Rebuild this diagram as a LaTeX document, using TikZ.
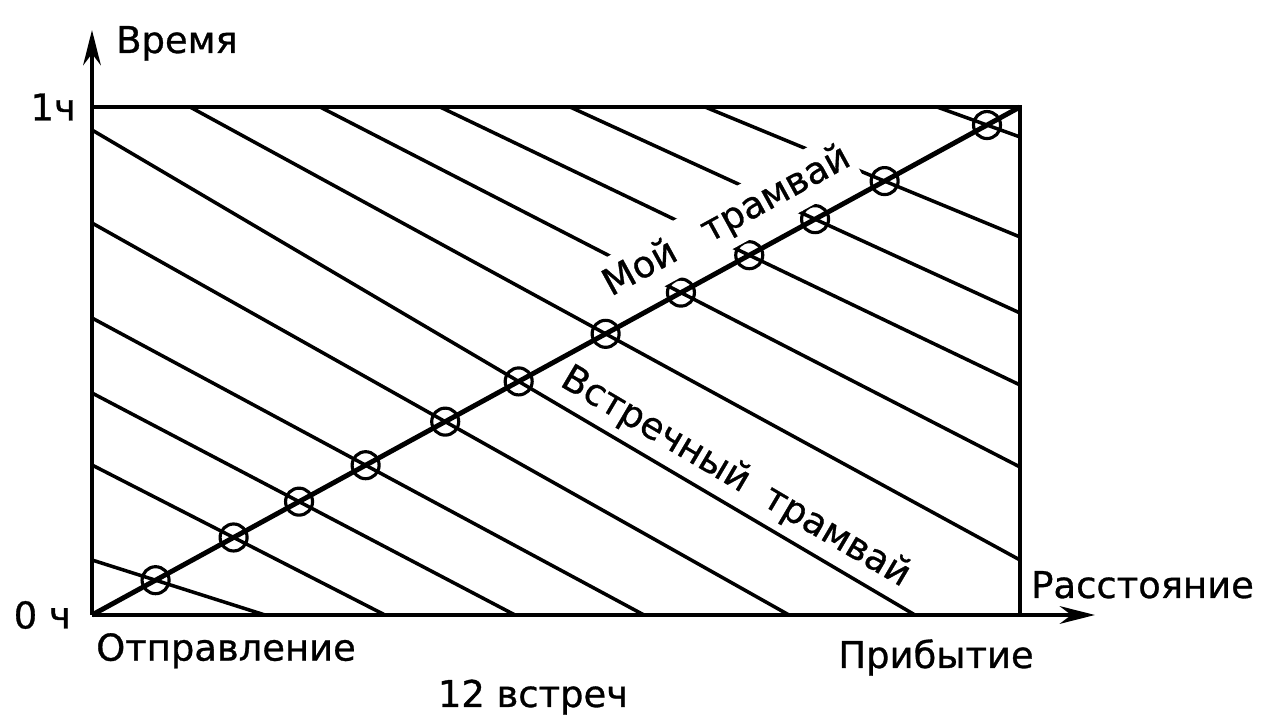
\documentclass[tikz,border=0pt]{standalone}
\usepackage{fontspec}
\setmainfont[FakeBold=0.8]{DejaVu Sans}
\usetikzlibrary{arrows.meta,positioning,intersections}

\begin{document}
\begin{tikzpicture}
\tikzstyle{hatch} = [line width=1pt]
\tikzstyle{frame} = [line width=1.2pt]
\tikzstyle{axis} = [line width=1.3pt, -{Stealth[length=10pt,width=5pt]}]
\tikzstyle{meet} = [circle, draw, line width=0.9pt, minimum size=0.27cm, inner sep=0pt]
\tikzstyle{lbl} = [font=\fontsize{10.5}{12}\selectfont, inner sep=1pt]

\useasboundingbox (-0.92,-1.10) rectangle (11.96,6.15);

\coordinate (O) at (0,0);
\coordinate (TL) at (0,5.08);
\coordinate (TR) at (9.28,5.08);
\coordinate (BR) at (9.28,0);
\coordinate (xtip) at (10.03,0);
\coordinate (ytip) at (0,5.85);

\path[name path=diag] (O) -- (TR);

% oncoming trams leaving before 0 h
\foreach \ya/\xb [count=\i] in {4.85/8.23, 3.92/6.97, 2.97/5.52, 2.22/4.23, 1.50/2.93, 0.55/1.73}{
  \coordinate (l\i) at (0,\ya);
  \coordinate (b\i) at (\xb,0);
  \draw[hatch, name path=cur] (l\i) -- (b\i);
  \path[name intersections={of=diag and cur, by=c\i}];
  \node[meet] (m\i) at (c\i) {};
}
% oncoming trams leaving after 0 h
\foreach \xa/\yb [count=\i from 7] in {0.98/0.55, 2.28/1.48, 3.48/2.30, 4.78/3.02, 6.13/3.78, 8.45/4.78}{
  \coordinate (t\i) at (\xa,5.08);
  \coordinate (r\i) at (9.28,\yb);
  \draw[hatch, name path=cur] (t\i) -- (r\i);
  \path[name intersections={of=diag and cur, by=c\i}];
  \node[meet] (m\i) at (c\i) {};
}

\path (l1) -- node[lbl, pos=0.765, sloped, above=1.5pt] (oncoming) {Встречный\hspace{0.6em}трамвай} (b1);

\draw[frame] (TL) -- (TR) -- (BR);
\draw[axis] (O) -- (xtip);
\draw[axis] (O) -- (ytip);
\draw[line width=1.4pt] (O) -- node[lbl, pos=0.705, sloped, above=0.11cm, fill=white, inner ysep=2.5pt] (mine) {Мой\hspace{0.9em}трамвай} (TR);

\node[lbl, anchor=base west] (time) at (0.20,5.62) {Время};
\node[lbl, left=0.12cm of TL] (onehour) {1ч};
\node[lbl, left=0.17cm of O] (zerohour) {0 ч};
\node[lbl, below right=0.14cm and 0cm of O] (depart) {Отправление};
\node[lbl, anchor=base] (arrive) at (8.44,-0.53) {Прибытие};
\node[lbl, anchor=base west] (dist) at (9.35,0.17) {Расстояние};
\node[lbl, anchor=base] (count) at (4.41,-0.92) {12 встреч};
\end{tikzpicture}
\end{document}
